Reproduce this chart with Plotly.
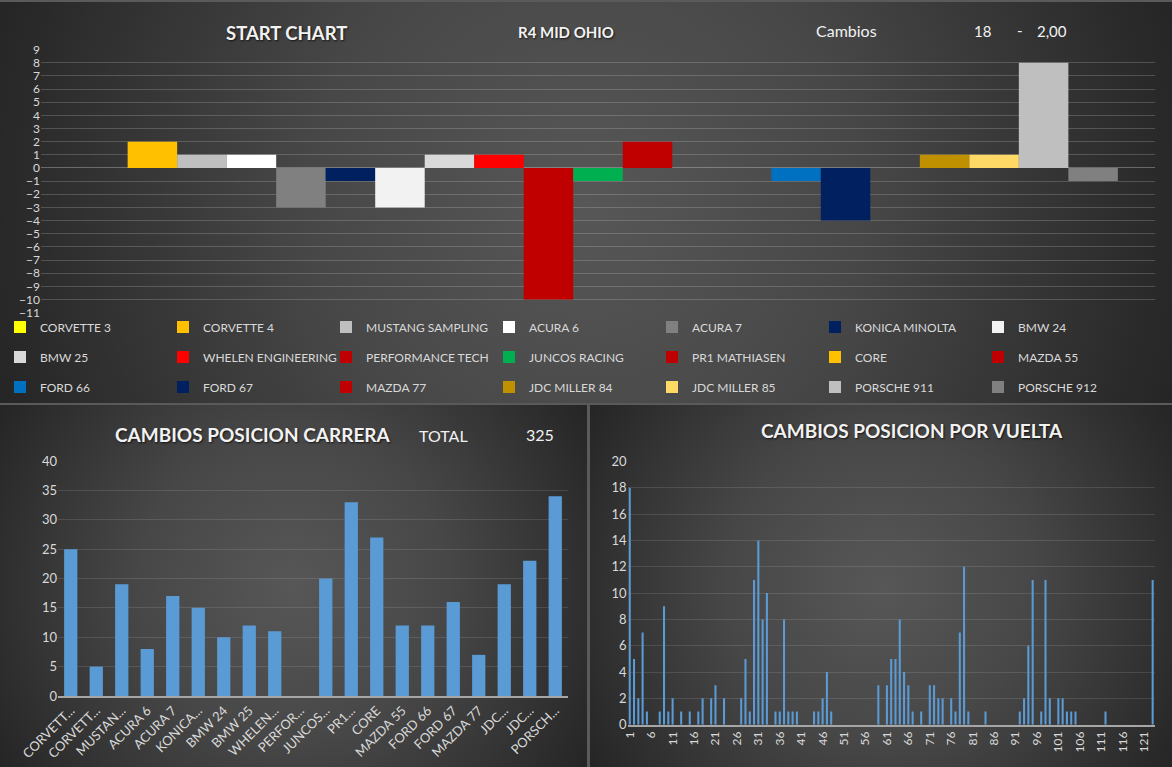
import base64
import plotly.graph_objects as go

W, H = 1172, 767
FONT = "Lato, 'Open Sans', sans-serif"

# ---------------- data ----------------
teams = ["CORVETTE 3", "CORVETTE 4", "MUSTANG SAMPLING", "ACURA 6", "ACURA 7",
         "KONICA MINOLTA", "BMW 24", "BMW 25", "WHELEN ENGINEERING", "PERFORMANCE TECH",
         "JUNCOS RACING", "PR1 MATHIASEN", "CORE", "MAZDA 55", "FORD 66", "FORD 67",
         "MAZDA 77", "JDC MILLER 84", "JDC MILLER 85", "PORSCHE 911", "PORSCHE 912"]
team_colors = ["#FFFF00", "#FFC000", "#BFBFBF", "#FFFFFF", "#808080", "#002060",
               "#F2F2F2", "#D9D9D9", "#FF0000", "#C00000", "#00B050", "#C00000",
               "#FFC000", "#C00000", "#0070C0", "#002060", "#C00000", "#BF9000",
               "#FFD966", "#BFBFBF", "#808080"]
start_changes = [0, 2, 1, 1, -3, -1, -3, 1, 1, -10, -1, 2, 0, 0, -1, -4, 0, 1, 1, 8, -1]

race_teams = ["CORVETTE 3", "CORVETTE 4", "MUSTANG SAMPLING", "ACURA 6", "ACURA 7",
              "KONICA MINOLTA", "BMW 24", "BMW 25", "WHELEN ENGINEERING", "PERFORMANCE TECH",
              "JUNCOS RACING", "PR1 MATHIASEN", "CORE", "MAZDA 55", "FORD 66", "FORD 67",
              "MAZDA 77", "JDC MILLER 84", "JDC MILLER 85", "PORSCHE 911"]
race_labels = ["CORVETT...", "CORVETT...", "MUSTAN...", "ACURA 6", "ACURA 7",
               "KONICA...", "BMW 24", "BMW 25", "WHELEN...", "PERFOR...",
               "JUNCOS...", "PR1...", "CORE", "MAZDA 55", "FORD 66", "FORD 67",
               "MAZDA 77", "JDC...", "JDC...", "PORSCH..."]
race_changes = [25, 5, 19, 8, 17, 15, 10, 12, 11, 0, 20, 33, 27, 12, 12, 16, 7, 19, 23, 34]
race_total = 325

laps = list(range(1, 124))
lap_changes = [18, 5, 2, 7, 1, 0, 0, 1, 9, 1,
               2, 0, 1, 0, 1, 0, 1, 2, 0, 2,
               3, 0, 2, 0, 0, 0, 2, 5, 1, 11,
               14, 8, 10, 0, 1, 1, 8, 1, 1, 1,
               0, 0, 0, 1, 1, 2, 4, 1, 0, 0,
               0, 0, 0, 0, 0, 0, 0, 0, 3, 0,
               3, 5, 5, 8, 4, 3, 1, 0, 1, 0,
               3, 3, 2, 2, 0, 2, 1, 7, 12, 1,
               0, 0, 0, 1, 0, 0, 0, 0, 0, 0,
               0, 1, 2, 6, 11, 0, 1, 11, 2, 0,
               2, 2, 1, 1, 1, 0, 0, 0, 0, 0,
               0, 1, 0, 0, 0, 0, 0, 0, 0, 0,
               0, 0, 11]
lap_tick_labels = [str(n) for n in laps[::5]]

# ---------------- helpers ----------------
def px(x):
    return x / W

def py(y):
    return 1 - y / H

# background panels (radial gradients) as an SVG image
def panel(pid, x, y, w, h):
    cx, cy = x + w / 2, y + h / 2
    r = ((w ** 2 + h ** 2) ** 0.5) / 2
    grad = (f'<radialGradient id="{pid}" gradientUnits="userSpaceOnUse" cx="{cx}" cy="{cy}" r="{r}">'
            f'<stop offset="0" stop-color="#575757"/><stop offset="0.45" stop-color="#474747"/>'
            f'<stop offset="1" stop-color="#252525"/></radialGradient>')
    rect = f'<rect x="{x}" y="{y}" width="{w}" height="{h}" fill="url(#{pid})"/>'
    return grad, rect

parts = [panel("g1", 0, 2, 1172, 401), panel("g2", 0, 405, 587, 362), panel("g3", 590, 405, 582, 362)]
svg = (f'<svg xmlns="http://www.w3.org/2000/svg" width="{W}" height="{H}" viewBox="0 0 {W} {H}">'
       f'<rect width="{W}" height="{H}" fill="#5a5a5a"/>'
       '<defs>' + ''.join(p[0] for p in parts) + '</defs>' + ''.join(p[1] for p in parts) + '</svg>')
bg_src = "data:image/svg+xml;base64," + base64.b64encode(svg.encode()).decode()

fig = go.Figure()

# ---------------- top chart ----------------
legend_names = ["legend", "legend2", "legend3"]
for i, (t, c, v) in enumerate(zip(teams, team_colors, start_changes)):
    fig.add_trace(go.Bar(x=[t], y=[v], name=t, width=1,
                         marker=dict(color=c, line=dict(width=0)),
                         legend=legend_names[i // 7], xaxis="x", yaxis="y",
                         hoverinfo="name+y"))

# ---------------- bottom-left chart ----------------
fig.add_trace(go.Bar(x=race_teams, y=race_changes, width=0.52, showlegend=False,
                     marker=dict(color="#5B9BD5", line=dict(width=0)),
                     xaxis="x2", yaxis="y2"))

# ---------------- bottom-right chart ----------------
fig.add_trace(go.Bar(x=laps, y=lap_changes, width=0.48, showlegend=False,
                     marker=dict(color="#5B9BD5", line=dict(width=0)),
                     xaxis="x3", yaxis="y3"))

tick_col = "#d9d9d9"
grid_top = "rgba(217,217,217,0.22)"
grid_bot = "rgba(217,217,217,0.14)"
shadow = "1px 1px 2px rgba(0,0,0,0.7)"

leg_common = dict(orientation="h", xanchor="left", yanchor="middle", x=0,
                  entrywidth=118, entrywidthmode="pixels",
                  font=dict(family=FONT, size=12, color=tick_col),
                  bgcolor="rgba(0,0,0,0)", borderwidth=0, traceorder="normal",
                  itemclick=False, itemdoubleclick=False)

annots = [
    dict(text="<b>START CHART</b>", x=px(286), y=py(33), font=dict(size=18.5, color="#f2f2f2", shadow=shadow)),
    dict(text="<b>R4 MID OHIO</b>", x=px(566), y=py(32), font=dict(size=15, color="#f2f2f2", shadow=shadow)),
    dict(text="Cambios", x=px(846), y=py(31), font=dict(size=16, color="#f2f2f2")),
    dict(text="18", x=px(982), y=py(31), font=dict(size=15, color="#f2f2f2")),
    dict(text="-", x=px(1020), y=py(30), font=dict(size=15, color="#f2f2f2")),
    dict(text="2,00", x=px(1052), y=py(31), font=dict(size=15, color="#f2f2f2")),
    dict(text="<b>CAMBIOS POSICION CARRERA</b>", x=px(253), y=py(434), font=dict(size=19, color="#f2f2f2", shadow=shadow)),
    dict(text="TOTAL", x=px(443), y=py(435), font=dict(size=16, color="#f2f2f2")),
    dict(text=str(race_total), x=px(540), y=py(434), font=dict(size=16, color="#f2f2f2")),
    dict(text="<b>CAMBIOS POSICION POR VUELTA</b>", x=px(912), y=py(430), font=dict(size=19, color="#f2f2f2", shadow=shadow)),
]
for a in annots:
    a.update(xref="paper", yref="paper", showarrow=False, xanchor="center", yanchor="middle")
    a["font"]["family"] = FONT

fig.update_layout(
    width=W, height=H,
    margin=dict(l=0, r=0, t=0, b=0, autoexpand=False),
    paper_bgcolor="#5a5a5a", plot_bgcolor="rgba(0,0,0,0)",
    barmode="overlay",
    font=dict(family=FONT, color=tick_col),
    images=[dict(source=bg_src, xref="paper", yref="paper", x=0, y=1, sizex=1, sizey=1,
                 xanchor="left", yanchor="top", sizing="stretch", layer="below")],
    annotations=annots,
    legend=dict(leg_common, y=py(327)),
    legend2=dict(leg_common, y=py(357)),
    legend3=dict(leg_common, y=py(387)),
    xaxis=dict(domain=[px(41), px(1155)], range=[-1.25, 21.25], type="category",
               showticklabels=False, showgrid=False, zeroline=False, showline=False,
               anchor="y", fixedrange=True),
    yaxis=dict(domain=[py(312.6), py(49.6)], range=[-11, 9], dtick=1, tick0=0,
               showgrid=True, gridcolor=grid_top, gridwidth=1,
               zeroline=True, zerolinecolor="rgba(217,217,217,0.35)", zerolinewidth=1,
               tickfont=dict(size=12, color=tick_col), anchor="x", fixedrange=True),
    xaxis2=dict(domain=[px(58), px(568)], range=[-0.5, 19.5], type="category",
                tickvals=race_teams, ticktext=race_labels, tickangle=-45,
                tickfont=dict(size=13, color=tick_col), showgrid=False, zeroline=False,
                showline=True, linecolor="#a6a6a6", linewidth=2, anchor="y2", fixedrange=True),
    yaxis2=dict(domain=[py(696), py(461)], range=[0, 40], dtick=5,
                showgrid=True, gridcolor=grid_bot, zeroline=False,
                tickfont=dict(size=13, color=tick_col), anchor="x2", fixedrange=True),
    xaxis3=dict(domain=[px(627.6), px(1154.8)], range=[0.5, 123.5],
                tickvals=laps[::5], ticktext=lap_tick_labels, tickangle=-90,
                tickfont=dict(size=12, color=tick_col), showgrid=False, zeroline=False,
                showline=True, linecolor="#a6a6a6", linewidth=2, anchor="y3", fixedrange=True),
    yaxis3=dict(domain=[py(724.7), py(461.4)], range=[0, 20], dtick=2,
                showgrid=True, gridcolor=grid_bot, zeroline=False,
                tickfont=dict(size=13, color=tick_col), anchor="x3", fixedrange=True),
)

fig.write_html("out.html", config={"displayModeBar": False},
               post_script="document.body.style.margin='0';")
